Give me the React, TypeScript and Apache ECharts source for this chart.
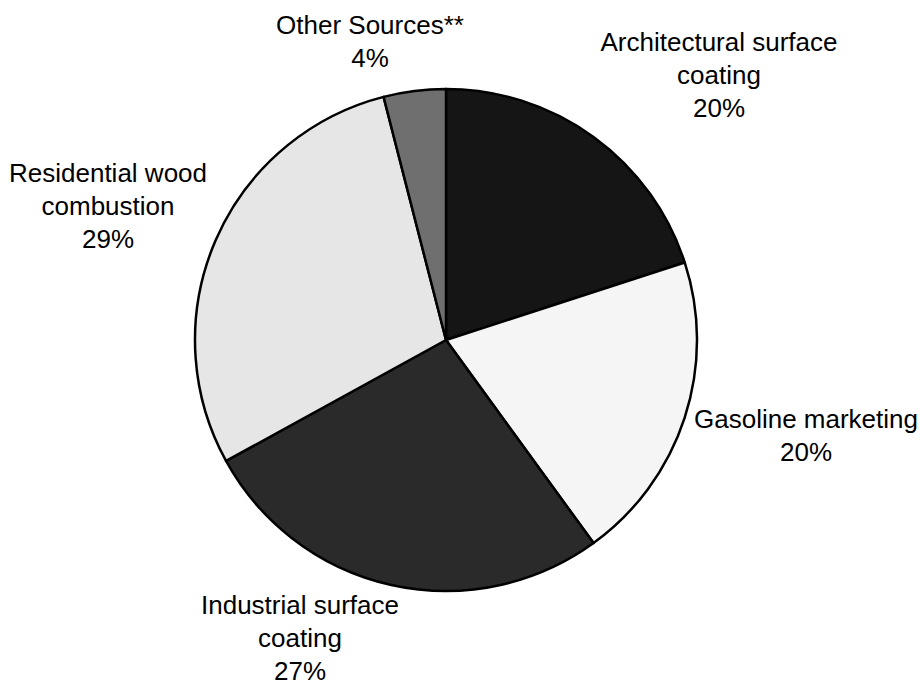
import React, { useEffect, useRef } from "react";
import * as echarts from "echarts";

const categories = [
  "Architectural surface\ncoating",
  "Gasoline marketing",
  "Industrial surface\ncoating",
  "Residential wood\ncombustion",
  "Other Sources**",
];
const shares = [20, 20, 27, 29, 4];
const sliceColors = ["#151515", "#f5f5f5", "#2a2a2a", "#e6e6e6", "#6f6f6f"];
const labelCenters: [number, number][] = [
  [719, 75],
  [806, 435],
  [300, 638],
  [108, 206],
  [370, 41],
];

export default function App() {
  const ref = useRef<HTMLDivElement>(null);
  useEffect(() => {
    if (!ref.current) return;
    const chart = echarts.init(ref.current, null, { renderer: "svg" });
    chart.setOption({
      animation: false,
      backgroundColor: "#ffffff",
      series: [
        {
          type: "pie",
          center: [446, 340],
          radius: 251,
          startAngle: 90,
          clockwise: true,
          avoidLabelOverlap: false,
          itemStyle: { borderColor: "#000000", borderWidth: 2.5 },
          label: {
            show: true,
            position: "outside",
            formatter: "{b}\n{c}%",
            fontFamily: "Liberation Sans, Arial, sans-serif",
            fontSize: 26,
            lineHeight: 33,
            color: "#000000",
            align: "center",
          },
          labelLine: { show: false },
          labelLayout: (p: any) => {
            const c = labelCenters[p.dataIndex];
            return { x: c[0], y: c[1], align: "center", verticalAlign: "middle" };
          },
          emphasis: { disabled: true },
          data: categories.map((name, i) => ({
            name,
            value: shares[i],
            itemStyle: { color: sliceColors[i] },
          })),
        },
      ],
    });
    return () => chart.dispose();
  }, []);
  return (
    <div
      ref={ref}
      style={{ position: "absolute", left: 0, top: 0, width: 922, height: 688 }}
    />
  );
}
